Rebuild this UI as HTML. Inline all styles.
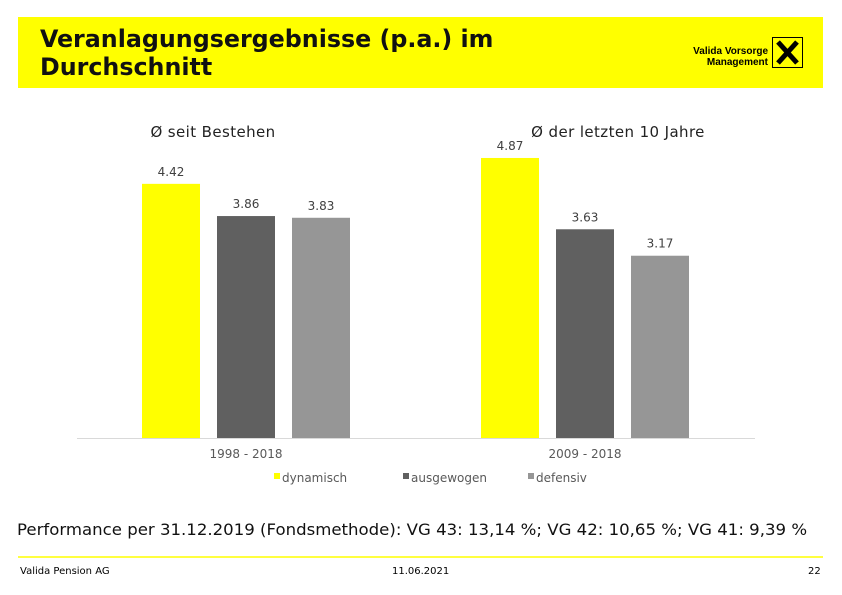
<!DOCTYPE html>
<html><head><meta charset="utf-8"><style>
body{margin:0;width:842px;height:595px;background:#fff;position:relative;overflow:hidden;font-family:"DejaVu Sans","Liberation Sans",sans-serif}
.abs{position:absolute}
</style></head><body>
<div class="abs" style="left:18px;top:17px;width:805px;height:71px;background:#ffff00"></div>
<div class="abs" style="left:40px;top:25px;font:bold 24px/28px 'DejaVu Sans Condensed','Liberation Sans Narrow','Liberation Sans',sans-serif;color:#111;transform:scaleX(1.1);transform-origin:left;white-space:nowrap">Veranlagungsergebnisse (p.a.) im<br>Durchschnitt</div>
<div class="abs" style="left:682px;top:46px;font:bold 10px/11px 'Liberation Sans',sans-serif;text-align:right;width:86px">Valida Vorsorge<br>Management</div>
<svg class="abs" style="left:772px;top:37px" width="31" height="31"><rect x="0.5" y="0.5" width="30" height="30" fill="none" stroke="#000"/><path d="M6 5 L25 26 M25 5 L6 26" stroke="#000" stroke-width="5"/></svg>
<svg class="abs" style="left:0;top:0" width="842" height="595" id="chart"></svg>
<div class="abs" style="left:17px;top:520px;font:16px 'DejaVu Sans',sans-serif;color:#111;white-space:nowrap;transform:scaleX(1.035);transform-origin:left">Performance per 31.12.2019 (Fondsmethode): VG 43: 13,14 %; VG 42: 10,65 %; VG 41: 9,39 %</div>
<div class="abs" style="left:18px;top:556px;width:805px;height:2px;background:#ffff40"></div>
<div class="abs" style="left:20px;top:566px;font:10px 'DejaVu Sans',sans-serif">Valida Pension AG</div>
<div class="abs" style="left:392px;top:566px;font:10px 'DejaVu Sans',sans-serif">11.06.2021</div>
<div class="abs" style="left:808px;top:566px;font:10px 'DejaVu Sans',sans-serif">22</div>
<script>
const categories=["1998 - 2018","2009 - 2018"];
const groupTitles=["Ø seit Bestehen","Ø der letzten 10 Jahre"];
const seriesNames=["dynamisch","ausgewogen","defensiv"];
const dynamisch=[4.42,4.87];
const ausgewogen=[3.86,3.63];
const defensiv=[3.83,3.17];
const colors=["#ffff00","#606060","#969696"];
const svg=document.getElementById('chart');
const NS="http://www.w3.org/2000/svg";
const base=438, pxPerUnit=57.5;
function y(v){return base-v*pxPerUnit;}
const groupX=[142,481], barW=58, step=75;
function mk(tag,attrs){const e=document.createElementNS(NS,tag);for(const k in attrs)e.setAttribute(k,attrs[k]);svg.appendChild(e);return e;}
const axis=mk('line',{x1:77,x2:755,y1:base+0.5,y2:base+0.5,stroke:'#d9d9d9'});


const series=[dynamisch,ausgewogen,defensiv];
series.forEach((vals,s)=>{vals.forEach((v,g)=>{
 const x=groupX[g]+s*step;
 const r=mk('rect',{x:x,y:y(v),width:barW,height:base-y(v),fill:colors[s]});
 
 
 const t=mk('text',{x:x+barW/2,y:y(v)-8,'text-anchor':'middle','font-size':'12','fill':'#404040','font-family':'DejaVu Sans, sans-serif'});
 t.textContent=v.toFixed(2);
 
 
});});
categories.forEach((c,g)=>{
 const cx=groupX[g]+step+barW/2;
 const t=mk('text',{x:cx,y:458,'text-anchor':'middle','font-size':'12','fill':'#595959','font-family':'DejaVu Sans, sans-serif'});
 t.textContent=c;
 
 
});
const titleX=[213,618];
groupTitles.forEach((c,g)=>{
 const t=mk('text',{x:titleX[g],y:137,'text-anchor':'middle','font-size':'15','fill':'#222','font-family':'DejaVu Sans, sans-serif','letter-spacing':'0.4'});
 t.textContent=c;
 
 
});
const legX=[274,403,528];
seriesNames.forEach((n,s)=>{
 const r=mk('rect',{x:legX[s],y:473,width:6,height:6,fill:colors[s]});
 
 
 const t=mk('text',{x:legX[s]+8,y:482,'font-size':'12','fill':'#595959','font-family':'DejaVu Sans, sans-serif'});
 t.textContent=n;
 
 
});
</script>
</body></html>
